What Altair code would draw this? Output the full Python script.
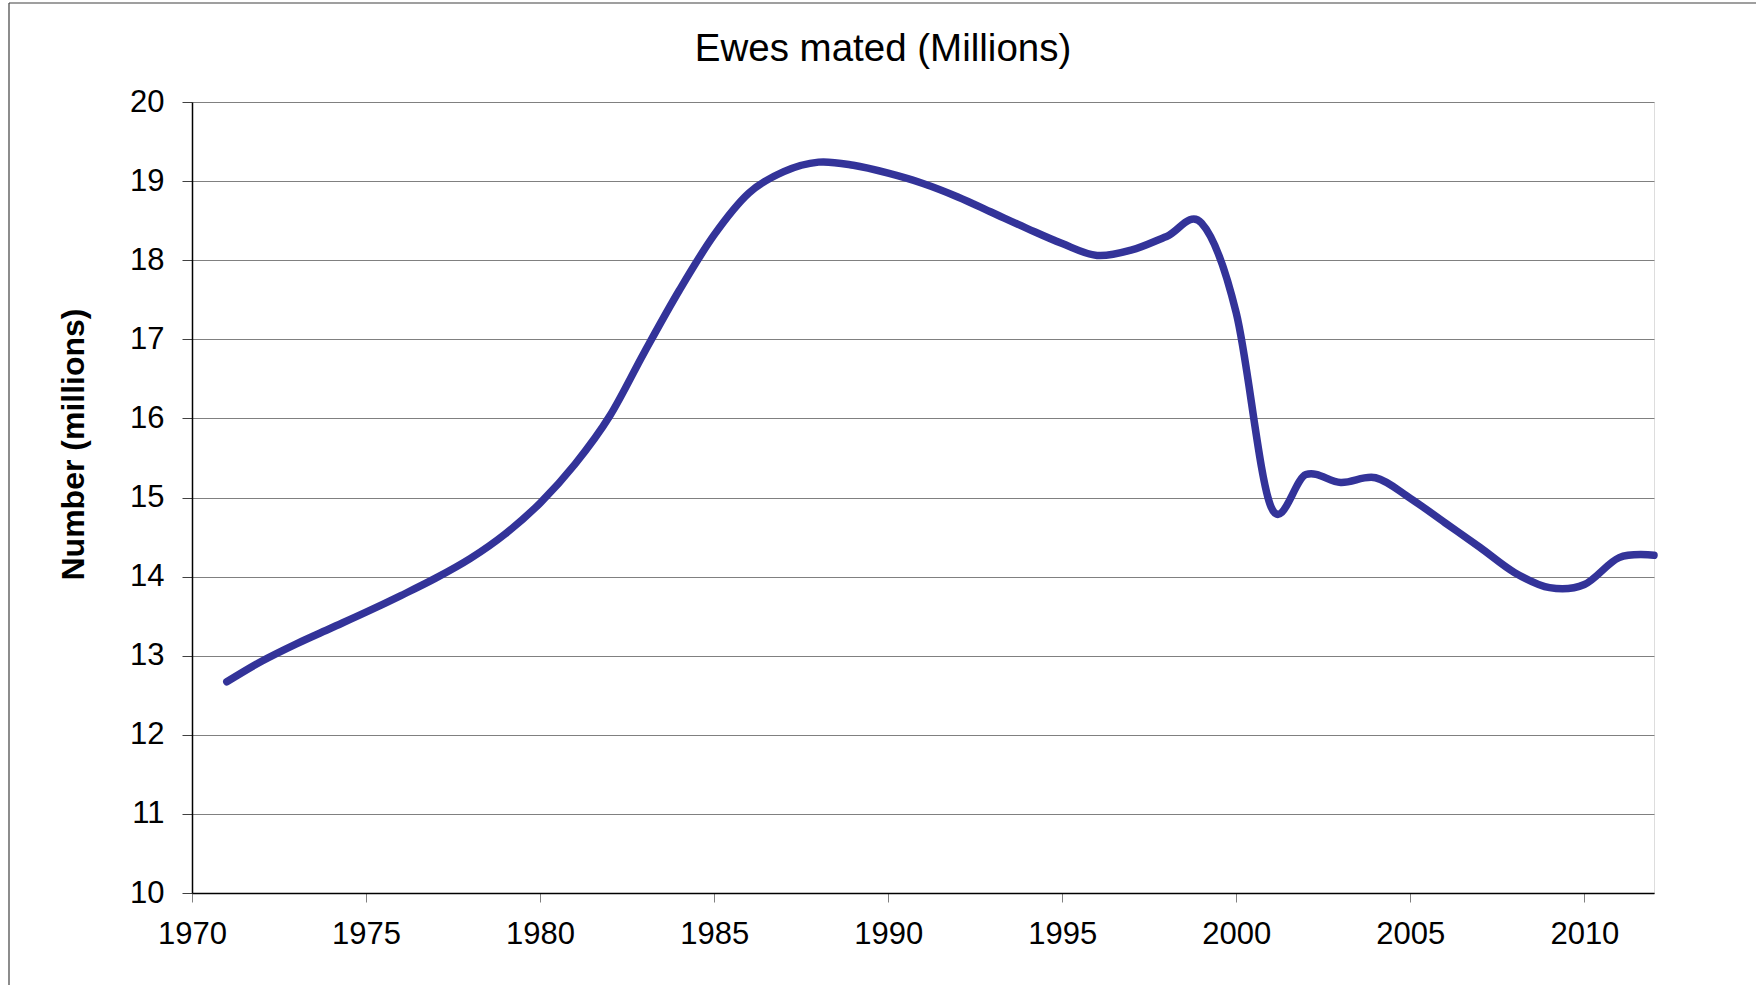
import altair as alt
import pandas as pd

years = list(range(1971, 2013))
ewes = [12.67, 12.93, 13.15, 13.35, 13.55, 13.76, 13.98, 14.23, 14.54, 14.93,
        15.42, 16.03, 16.84, 17.62, 18.32, 18.85, 19.12, 19.24, 19.20, 19.10,
        18.97, 18.80, 18.60, 18.40, 18.21, 18.06, 18.13, 18.30, 18.47, 17.33,
        14.88, 15.29, 15.19, 15.25, 14.99, 14.68, 14.37, 14.05, 13.86, 13.90,
        14.24, 14.27]
x_ticks = [1970, 1975, 1980, 1985, 1990, 1995, 2000, 2005, 2010]
y_ticks = [10, 11, 12, 13, 14, 15, 16, 17, 18, 19, 20]

df = pd.DataFrame({"year": years, "ewes": ewes})

FONT = "Liberation Sans"
W, H = 1462, 791
PAD_L, PAD_T = 192, 102

line = alt.Chart(df).mark_line(
    interpolate="cardinal", color="#333399", strokeWidth=7.5, strokeCap="round",
    clip=False
).encode(
    x=alt.X("year:Q",
            scale=alt.Scale(domain=[1970, 2012], nice=False, zero=False),
            axis=alt.Axis(values=x_ticks, format="d", title=None, grid=False,
                          tickSize=9, tickColor="#808080", tickWidth=1,
                          domainColor="#000000", domainWidth=1.5,
                          labelFont=FONT, labelFontSize=31, labelColor="#000000",
                          labelPadding=17, labelFlush=False)),
    y=alt.Y("ewes:Q",
            scale=alt.Scale(domain=[10, 20], nice=False, zero=False),
            axis=alt.Axis(values=y_ticks, format="d", title="Number (millions)",
                          grid=True, gridColor="#808080", gridWidth=1,
                          tickSize=10, tickColor="#404040", tickWidth=1,
                          domainColor="#000000", domainWidth=1.5,
                          labelFont=FONT, labelFontSize=31, labelColor="#000000",
                          labelPadding=18,
                          titleFont=FONT, titleFontSize=32, titleFontWeight="bold",
                          titleColor="#000000", titleX=-119, titleY=342,
                          titleAngle=270, titleAlign="center",
                          titleBaseline="middle")),
)

frame_df = pd.DataFrame({"k": [0]})
top_border = alt.Chart(frame_df).mark_rule(color="#404040", strokeWidth=1.2).encode(
    x=alt.value(-183), x2=alt.value(1756 - PAD_L), y=alt.value(-99)
)
left_border = alt.Chart(frame_df).mark_rule(color="#404040", strokeWidth=1.2).encode(
    x=alt.value(-183), y=alt.value(-99), y2=alt.value(985 - PAD_T)
)

chart = alt.layer(top_border, left_border, line).properties(
    width=W, height=H,
    title=alt.TitleParams("Ewes mated (Millions)", font=FONT, fontSize=38.5,
                          fontWeight="normal", color="#000000",
                          anchor="middle", frame="group", dx=-40, dy=77, offset=10),
    autosize=alt.AutoSizeParams(type="none"),
    padding={"left": PAD_L, "top": PAD_T, "right": 1756 - PAD_L - W,
             "bottom": 985 - PAD_T - H},
).configure_view(
    stroke="#808080", strokeWidth=2
).configure(background="white")

chart.save("out.html", embed_options={"renderer": "svg", "actions": False})
